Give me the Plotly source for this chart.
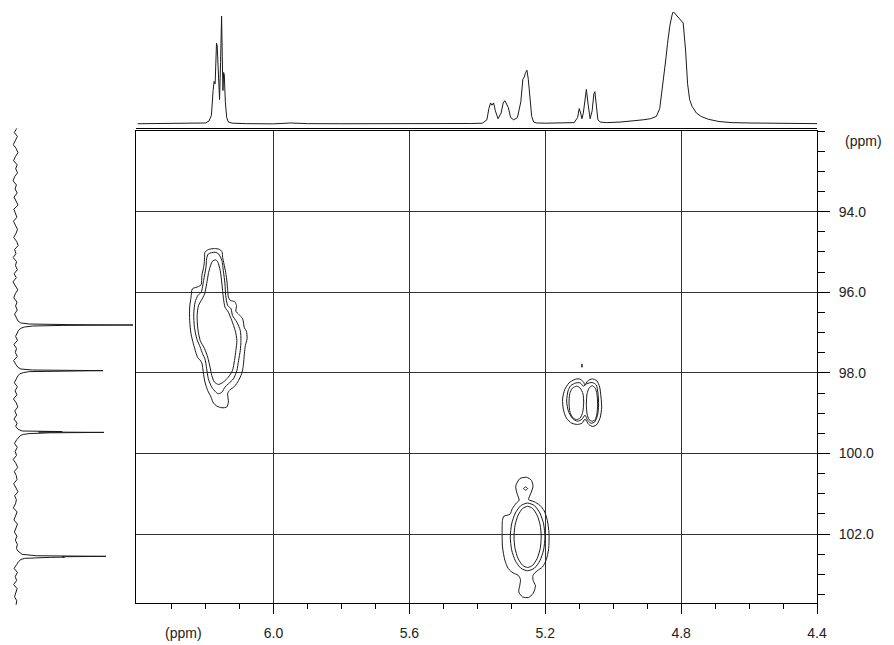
import plotly.graph_objects as go

# ---------------- data ----------------
x_range = [6.405, 4.4]          # 1H (ppm), reversed
y_range = [103.71, 92.0]        # 13C (ppm), reversed

x_major = [6.0, 5.6, 5.2, 4.8, 4.4]
x_major_text = ["6.0", "5.6", "5.2", "4.8", "4.4"]
x_minor = [6.3, 6.2, 6.1, 5.9, 5.8, 5.7, 5.5, 5.4, 5.3, 5.1, 5.0, 4.9, 4.7, 4.6, 4.5]
y_major = [94.0, 96.0, 98.0, 100.0, 102.0]
y_major_text = ["94.0", "96.0", "98.0", "100.0", "102.0"]
y_minor = [92.0, 92.5, 93.0, 93.5, 94.5, 95.0, 95.5, 96.5, 97.0, 97.5, 98.5, 99.0, 99.5,
           100.5, 101.0, 101.5, 102.5, 103.0, 103.5]

# top 1D 1H projection
top_ppm = [6.40, 6.30, 6.22, 6.20, 6.19, 6.183, 6.178, 6.175, 6.172, 6.168, 6.166, 6.162, 6.159,
           6.156, 6.153, 6.151, 6.149, 6.147, 6.145, 6.142, 6.138, 6.133, 6.12, 6.08, 6.00, 5.95,
           5.90, 5.80, 5.70, 5.60, 5.50, 5.42, 5.385, 5.372, 5.366, 5.361, 5.357, 5.352, 5.347,
           5.339, 5.330, 5.324, 5.319, 5.314, 5.309, 5.302, 5.293, 5.282, 5.272, 5.266, 5.262,
           5.258, 5.254, 5.250, 5.245, 5.240, 5.234, 5.225, 5.20, 5.15, 5.115, 5.105, 5.100,
           5.096, 5.092, 5.088, 5.083, 5.079, 5.074, 5.068, 5.062, 5.057, 5.054, 5.050, 5.045,
           5.038, 5.02, 4.98, 4.94, 4.912, 4.89, 4.873, 4.863, 4.853, 4.845, 4.840, 4.833, 4.826,
           4.823, 4.794, 4.787, 4.781, 4.775, 4.768, 4.755, 4.741, 4.72, 4.689, 4.65, 4.60, 4.55,
           4.50, 4.45, 4.40]
top_int = [0.005, 0.006, 0.008, 0.012, 0.03, 0.08, 0.30, 0.38, 0.36, 0.72, 0.70, 0.35, 0.22,
           0.55, 0.96, 0.60, 0.30, 0.46, 0.44, 0.20, 0.06, 0.02, 0.01, 0.006, 0.004, 0.012,
           0.006, 0.005, 0.004, 0.005, 0.006, 0.007, 0.01, 0.04, 0.14, 0.19, 0.17, 0.19, 0.12,
           0.05, 0.10, 0.19, 0.21, 0.18, 0.15, 0.06, 0.04, 0.06, 0.20, 0.40, 0.42,
           0.46, 0.48, 0.40, 0.22, 0.07, 0.02, 0.012, 0.01, 0.01, 0.015, 0.06, 0.14,
           0.10, 0.05, 0.10, 0.25, 0.31, 0.18, 0.05, 0.12, 0.27, 0.29, 0.16, 0.04,
           0.02, 0.015, 0.02, 0.03, 0.04, 0.05, 0.07, 0.14, 0.36, 0.58, 0.72, 0.88, 0.98,
           1.0, 0.90, 0.66, 0.36, 0.22, 0.16, 0.10, 0.07, 0.045, 0.025, 0.015, 0.012, 0.010,
           0.012, 0.008, 0.006]

# left 1D 13C projection
left_ppm = [91.95, 92.05, 92.15, 92.25, 92.35, 92.45, 92.55, 92.65, 92.75, 92.85, 92.95, 93.05,
            93.15, 93.25, 93.35, 93.45, 93.55, 93.65, 93.75, 93.85, 93.95, 94.05, 94.15, 94.25,
            94.35, 94.45, 94.55, 94.65, 94.75, 94.85, 94.95, 95.05, 95.15, 95.25, 95.35, 95.45,
            95.55, 95.65, 95.75, 95.85, 95.95, 96.05, 96.15, 96.25, 96.35, 96.45, 96.55, 96.65,
            96.72, 96.77, 96.795, 96.81, 96.82, 96.83, 96.845, 96.87, 96.90, 96.95, 97.02, 97.10,
            97.20, 97.30, 97.40, 97.50, 97.60, 97.70, 97.80,
            97.87, 97.91, 97.935, 97.95, 97.96, 97.975, 98.00, 98.03, 98.08, 98.15, 98.25, 98.35,
            98.45, 98.55, 98.65, 98.75, 98.85, 98.95, 99.05, 99.15, 99.25, 99.33,
            99.40, 99.445, 99.46, 99.465, 99.47, 99.48, 99.49, 99.51, 99.53, 99.56, 99.60, 99.66,
            99.75, 99.85, 99.95, 100.05, 100.15, 100.25, 100.35, 100.45, 100.55, 100.65, 100.75,
            100.85, 100.95, 101.05, 101.15, 101.25, 101.35, 101.45, 101.55, 101.65, 101.75,
            101.85, 101.95, 102.05, 102.15, 102.25, 102.35,
            102.42, 102.50, 102.535, 102.55, 102.56, 102.57, 102.575, 102.58, 102.60, 102.63,
            102.68, 102.75, 102.85, 102.95, 103.05, 103.15, 103.25, 103.35, 103.45, 103.55,
            103.65, 103.75]
left_int = [0.015, -0.006, 0.02, 0.004, -0.014, 0.01, 0.025, 0.003, -0.012, 0.018, 0.006, 0.022,
            -0.004, -0.016, 0.012, 0.0, 0.019, -0.008, 0.007, 0.026, -0.01, 0.005, 0.016, -0.013,
            0.002, 0.021, 0.009, -0.011, 0.014, 0.027, -0.003, 0.008, -0.015, 0.013, 0.004, 0.02,
            -0.007, 0.011, -0.017, 0.006, 0.024, 0.001, -0.01, 0.017, 0.005, 0.019, -0.004, 0.014,
            0.025, 0.05, 0.12, 0.45, 1.0, 0.40, 0.15, 0.08, 0.05, 0.03, 0.02, 0.005,
            0.022, -0.009, 0.013, 0.003, 0.019, -0.012, 0.008,
            0.025, 0.05, 0.15, 0.746, 0.30, 0.12, 0.07, 0.04, 0.025, 0.012, -0.006, 0.02,
            0.001, 0.016, -0.013, 0.011, 0.024, -0.002, 0.014, -0.009, 0.018, 0.006,
            0.025, 0.06, 0.40, 0.25, 0.20, 0.754, 0.30, 0.12, 0.07, 0.045, 0.03, 0.015,
            -0.004, 0.019, 0.002, 0.013, -0.015, 0.008, 0.023, -0.006, 0.011, 0.017, -0.011,
            0.009, 0.026, -0.003, 0.012, 0.004, -0.014, 0.018, 0.007, -0.009, 0.021,
            0.01, -0.005, 0.016, 0.003, 0.02, 0.012,
            0.025, 0.06, 0.18, 0.771, 0.40, 0.42, 0.30, 0.14, 0.08, 0.05,
            0.03, 0.015, -0.008, 0.021, 0.002, 0.014, -0.012, 0.018, 0.006, -0.004,
            0.015, 0.009]

# 2D cross-peak contour outlines (ppm 1H, ppm 13C)
peakA_outer_x = [6.202, 6.192, 6.174, 6.160, 6.152, 6.150, 6.146, 6.141, 6.137, 6.135, 6.133, 6.127,
                 6.115, 6.109, 6.111, 6.102, 6.091, 6.086, 6.080, 6.078, 6.083, 6.086, 6.089, 6.094,
                 6.103, 6.115, 6.128, 6.135, 6.133, 6.138, 6.152, 6.167, 6.177, 6.184, 6.194, 6.202,
                 6.207, 6.211, 6.217, 6.223, 6.229, 6.236, 6.243, 6.247, 6.247, 6.243, 6.239, 6.221,
                 6.213, 6.211, 6.205, 6.203, 6.202]
peakA_outer_y = [95.008, 94.942, 94.917, 94.934, 94.992, 95.132, 95.297, 95.504, 95.752, 95.958,
                 96.123, 96.206, 96.231, 96.330, 96.470, 96.553, 96.660, 96.883, 96.966, 97.156,
                 97.321, 97.528, 97.817, 98.023, 98.189, 98.337, 98.420, 98.503, 98.726, 98.849,
                 98.866, 98.825, 98.750, 98.602, 98.436, 98.230, 97.982, 97.759, 97.676, 97.627,
                 97.486, 97.280, 97.032, 96.702, 96.371, 96.123, 95.917, 95.859, 95.809, 95.586,
                 95.339, 95.132, 95.008]
peakA_mid_x = [6.192, 6.172, 6.162, 6.152, 6.148, 6.143, 6.141, 6.135, 6.125, 6.121, 6.108, 6.098,
               6.096, 6.098, 6.103, 6.108, 6.118, 6.133, 6.143, 6.152, 6.162, 6.170, 6.182, 6.192,
               6.197, 6.202, 6.209, 6.216, 6.226, 6.233, 6.235, 6.231, 6.223, 6.213, 6.206, 6.199,
               6.197, 6.192]
peakA_mid_y = [95.049, 95.008, 95.049, 95.215, 95.462, 95.793, 96.082, 96.330, 96.413, 96.578,
               96.743, 96.949, 97.197, 97.445, 97.693, 97.941, 98.147, 98.271, 98.354, 98.478,
               98.519, 98.478, 98.354, 98.147, 97.899, 97.652, 97.528, 97.362, 97.156, 96.867,
               96.536, 96.247, 96.082, 96.000, 95.710, 95.380, 95.173, 95.049]
peakA_in_x = [6.187, 6.180, 6.170, 6.164, 6.157, 6.152, 6.148, 6.143, 6.133, 6.123, 6.113, 6.108,
              6.111, 6.115, 6.121, 6.133, 6.148, 6.162, 6.174, 6.182, 6.187, 6.194, 6.203, 6.216,
              6.223, 6.225, 6.221, 6.213, 6.203, 6.197, 6.192, 6.187]
peakA_in_y = [95.380, 95.231, 95.198, 95.256, 95.462, 95.793, 96.123, 96.371, 96.495, 96.702,
              96.949, 97.197, 97.445, 97.693, 97.941, 98.106, 98.230, 98.288, 98.230, 98.065,
              97.858, 97.610, 97.404, 97.197, 96.908, 96.578, 96.330, 96.206, 96.041, 95.793,
              95.545, 95.380]

peakB_outer_x = [5.130, 5.115, 5.100, 5.088, 5.083, 5.075, 5.062, 5.048, 5.040, 5.036, 5.034, 5.038,
                 5.048, 5.060, 5.072, 5.083, 5.092, 5.105, 5.122, 5.138, 5.147, 5.149, 5.143, 5.130]
peakB_outer_y = [98.25, 98.17, 98.15, 98.22, 98.30, 98.20, 98.15, 98.20, 98.35, 98.60, 98.85, 99.10,
                 99.28, 99.33, 99.28, 99.15, 99.25, 99.28, 99.25, 99.12, 98.90, 98.65, 98.42, 98.25]
peakB_mid_x = [5.125, 5.110, 5.097, 5.088, 5.078, 5.062, 5.050, 5.045, 5.043, 5.046, 5.055, 5.065,
               5.075, 5.083, 5.092, 5.105, 5.120, 5.132, 5.137, 5.133, 5.125]
peakB_mid_y = [98.32, 98.25, 98.25, 98.33, 98.27, 98.24, 98.30, 98.50, 98.80, 99.05, 99.22, 99.25,
               99.18, 99.05, 99.15, 99.20, 99.13, 98.95, 98.70, 98.45, 98.32]
peakB_inL_x = [5.108, 5.120, 5.128, 5.130, 5.127, 5.118, 5.108, 5.097, 5.090, 5.087, 5.089, 5.097, 5.108]
peakB_inL_y = [98.33, 98.38, 98.52, 98.75, 98.98, 99.12, 99.16, 99.12, 98.98, 98.75, 98.52, 98.38, 98.33]
peakB_inR_x = [5.062, 5.071, 5.077, 5.079, 5.077, 5.071, 5.062, 5.053, 5.048, 5.046, 5.048, 5.053, 5.062]
peakB_inR_y = [98.32, 98.38, 98.52, 98.78, 99.02, 99.16, 99.20, 99.16, 99.02, 98.78, 98.52, 98.38, 98.32]
peakB_dot_x = [5.0925, 5.0915, 5.0915, 5.0925, 5.0925]
peakB_dot_y = [97.78, 97.78, 97.86, 97.86, 97.78]

peakC_outer_x = [5.275, 5.255, 5.241, 5.236, 5.243, 5.249, 5.233, 5.216, 5.203, 5.194, 5.189, 5.190,
                 5.197, 5.208, 5.224, 5.236, 5.236, 5.229, 5.236, 5.250, 5.267, 5.278, 5.275, 5.273,
                 5.280, 5.295, 5.309, 5.319, 5.326, 5.327, 5.326, 5.322, 5.304, 5.297, 5.285, 5.277,
                 5.283, 5.287, 5.275]
peakC_outer_y = [100.625, 100.592, 100.666, 100.815, 100.997, 101.145, 101.195, 101.286, 101.426,
                 101.658, 101.988, 102.360, 102.633, 102.814, 102.913, 103.021, 103.145, 103.285,
                 103.475, 103.574, 103.558, 103.434, 103.268, 103.128, 103.021, 102.963, 102.856,
                 102.649, 102.319, 101.988, 101.658, 101.558, 101.509, 101.368, 101.228, 101.162,
                 100.997, 100.815, 100.625]
peakC_mid_x = [5.303, 5.299, 5.288, 5.272, 5.252, 5.232, 5.216, 5.205, 5.201, 5.205, 5.216, 5.232,
               5.252, 5.272, 5.288, 5.299, 5.303]
peakC_mid_y = [102.07, 102.392, 102.664, 102.846, 102.91, 102.846, 102.664, 102.392, 102.07, 101.748,
               101.476, 101.294, 101.23, 101.294, 101.476, 101.748, 102.07]
peakC_in_x = [5.292, 5.289, 5.280, 5.267, 5.252, 5.237, 5.224, 5.215, 5.212, 5.215, 5.224, 5.237,
              5.252, 5.267, 5.280, 5.289, 5.292]
peakC_in_y = [102.07, 102.361, 102.607, 102.772, 102.83, 102.772, 102.607, 102.361, 102.07, 101.779,
              101.533, 101.368, 101.31, 101.368, 101.533, 101.779, 102.07]
peakC_dot_x = [5.258, 5.264, 5.258, 5.252, 5.258]
peakC_dot_y = [100.83, 100.87, 100.91, 100.87, 100.83]

contours = [
    (peakA_outer_x, peakA_outer_y), (peakA_mid_x, peakA_mid_y), (peakA_in_x, peakA_in_y),
    (peakB_outer_x, peakB_outer_y), (peakB_mid_x, peakB_mid_y),
    (peakB_inL_x, peakB_inL_y), (peakB_inR_x, peakB_inR_y), (peakB_dot_x, peakB_dot_y),
    (peakC_outer_x, peakC_outer_y), (peakC_mid_x, peakC_mid_y), (peakC_in_x, peakC_in_y),
    (peakC_dot_x, peakC_dot_y),
]

# ---------------- figure ----------------
W, H = 894, 645
FONT = "Liberation Sans, Arial, Helvetica, sans-serif"
INK = "#1a1a1a"
fig = go.Figure()

for cx, cy in contours:
    fig.add_trace(go.Scatter(x=cx, y=cy, mode="lines", xaxis="x", yaxis="y",
                             line=dict(color=INK, width=1, shape="spline", smoothing=0.7),
                             hoverinfo="skip", showlegend=False))

fig.add_trace(go.Scatter(x=top_ppm, y=top_int, mode="lines", xaxis="x2", yaxis="y2",
                         line=dict(color=INK, width=1), hoverinfo="skip", showlegend=False))
fig.add_trace(go.Scatter(x=left_int, y=left_ppm, mode="lines", xaxis="x3", yaxis="y3",
                         line=dict(color=INK, width=1), hoverinfo="skip", showlegend=False))

main_xdom = [136 / W, 817 / W]
main_ydom = [(H - 603) / H, (H - 131) / H]

fig.update_layout(
    template="none",
    width=W, height=H, margin=dict(l=0, r=0, t=0, b=0, pad=0), autosize=False,
    paper_bgcolor="white", plot_bgcolor="white",
    font=dict(family=FONT, size=14, color="#222"),
    xaxis=dict(domain=main_xdom, range=x_range, anchor="y", automargin=False,
               showline=True, mirror=True,
               linecolor="black", linewidth=1, showgrid=True, gridcolor="#333", gridwidth=1,
               zeroline=False, ticks="outside", ticklen=10, tickcolor="black", tickwidth=1,
               tickmode="array", tickvals=x_major, ticktext=x_major_text,
               ticklabelstandoff=7,
               minor=dict(ticks="outside", ticklen=5, tickcolor="black", tickwidth=1,
                          tickmode="array", tickvals=x_minor, showgrid=False)),
    yaxis=dict(domain=main_ydom, range=y_range, anchor="x", side="right", automargin=False,
               showline=True,
               mirror=True, linecolor="black", linewidth=1, showgrid=True, gridcolor="#333",
               gridwidth=1, zeroline=False, ticks="outside", ticklen=12, tickcolor="black",
               tickwidth=1,
               tickmode="array", tickvals=y_major, ticktext=y_major_text,
               ticklabelstandoff=6,
               minor=dict(ticks="outside", ticklen=7, tickcolor="black", tickwidth=1,
                          tickmode="array", tickvals=y_minor, showgrid=False)),
    xaxis2=dict(domain=main_xdom, range=x_range, anchor="y2", automargin=False, showline=True,
                linecolor="black", linewidth=1, showgrid=False, zeroline=False,
                showticklabels=False, ticks=""),
    yaxis2=dict(domain=[(H - 127.7) / H, (H - 11.7) / H], range=[-0.03, 1.0], anchor="x2",
                automargin=False, visible=False),
    xaxis3=dict(domain=[5 / W, 135 / W], range=[-0.0847, 1.0169], anchor="y3",
                automargin=False, visible=False),
    yaxis3=dict(domain=[(H - 606) / H, (H - 128) / H], range=[103.78, 91.94], anchor="x3",
                automargin=False, visible=False),
    annotations=[
        dict(text="(ppm)", xref="x", yref="paper", x=6.266, y=(H - 633) / H,
             xanchor="center", yanchor="middle", showarrow=False,
             font=dict(family=FONT, size=14, color="#222")),
        dict(text="(ppm)", xref="paper", yref="y", x=863 / W, y=92.24,
             xanchor="center", yanchor="middle", showarrow=False,
             font=dict(family=FONT, size=14, color="#222")),
    ],
)

fig.write_html("out.html", config={"displayModeBar": False, "staticPlot": True},
               post_script="document.body.style.margin='0px';"
               "document.body.style.overflow='hidden';")
